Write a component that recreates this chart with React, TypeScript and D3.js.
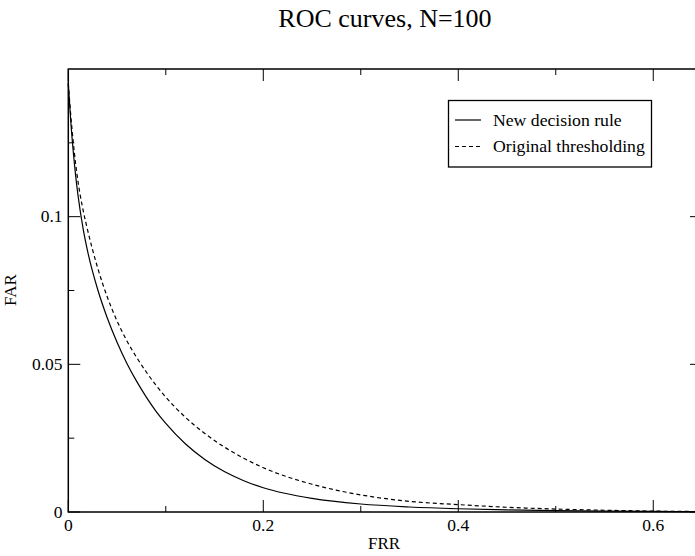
import React from "react";
import * as d3 from "d3";

const title = "ROC curves, N=100";
const xLabel = "FRR";
const yLabel = "FAR";

const xMajorTicks = [0, 0.2, 0.4, 0.6];
const xMajorLabels = ["0", "0.2", "0.4", "0.6"];
const xMinorTicks = [0.1, 0.3, 0.5];
const yMajorTicks = [0, 0.05, 0.1];
const yMajorLabels = ["0", "0.05", "0.1"];
const yMinorTicks = [0.025, 0.075, 0.125];

const seriesNames = ["New decision rule", "Original thresholding"];

const frrGrid = [0, 0.0025, 0.005, 0.0075, 0.01, 0.015, 0.02, 0.03, 0.04, 0.05, 0.06, 0.07, 0.08, 0.09, 0.1, 0.12, 0.14, 0.16, 0.18, 0.2, 0.25, 0.3, 0.35, 0.4, 0.45, 0.5, 0.55, 0.6, 0.65];

const newRuleFAR = [0.145, 0.1324, 0.1223, 0.114, 0.1071, 0.0963, 0.088, 0.0755, 0.0657, 0.0575, 0.0504, 0.0443, 0.0389, 0.0341, 0.03, 0.0231, 0.0178, 0.0137, 0.0106, 0.0082, 0.0046, 0.0027, 0.0017, 0.0011, 0.0007, 0.00045, 0.0003, 0.0002, 0.00012];

const origFAR = [0.1452, 0.1345, 0.1255, 0.118, 0.1118, 0.1025, 0.0952, 0.0828, 0.0728, 0.0647, 0.058, 0.0524, 0.0474, 0.0429, 0.0389, 0.0321, 0.0266, 0.022, 0.0182, 0.015, 0.0094, 0.0058, 0.0036, 0.0025, 0.0016, 0.001, 0.0006, 0.0003, 0.00015];

const W = 695;
const H = 556;
const font = "'Liberation Serif', 'Times New Roman', Times, serif";

export default function App() {
  const x = d3.scaleLinear().domain([0, 0.65]).range([68.3, 702]);
  const y = d3.scaleLinear().domain([0, 0.15]).range([512, 69]);
  const line = d3
    .line<[number, number]>()
    .x((d) => x(d[0]))
    .y((d) => y(d[1]))
    .curve(d3.curveMonotoneX);

  const solid = frrGrid.map((v, i) => [v, newRuleFAR[i]] as [number, number]);
  const dashed = frrGrid.map((v, i) => [v, origFAR[i]] as [number, number]);

  const x0 = x.range()[0];
  const x1 = x.range()[1];
  const y0 = y.range()[0];
  const y1 = y.range()[1];
  const major = 12;
  const minor = 6;
  const tickFs = 17.5;

  return (
    <svg
      width={W}
      height={H}
      style={{ position: "absolute", left: 0, top: 0, background: "#fff" }}
      fontFamily={font}
    >
      <rect x={0} y={0} width={W} height={H} fill="#fff" />
      <text x={385} y={27} fontSize={26} textAnchor="middle" fill="#000">
        {title}
      </text>

      <path d={line(solid) || ""} fill="none" stroke="#000" strokeWidth={1.2} />
      <path d={line(dashed) || ""} fill="none" stroke="#000" strokeWidth={1.2} strokeDasharray="4,3" />

      {xMajorTicks.map((t) => (
        <g key={"xm" + t}>
          <line x1={x(t)} x2={x(t)} y1={y0} y2={y0 - major} stroke="#000" strokeWidth={1} />
          <line x1={x(t)} x2={x(t)} y1={y1} y2={y1 + major} stroke="#000" strokeWidth={1} />
        </g>
      ))}
      {xMinorTicks.map((t) => (
        <g key={"xn" + t}>
          <line x1={x(t)} x2={x(t)} y1={y0} y2={y0 - minor} stroke="#000" strokeWidth={1} />
          <line x1={x(t)} x2={x(t)} y1={y1} y2={y1 + minor} stroke="#000" strokeWidth={1} />
        </g>
      ))}
      {yMajorTicks.map((t) => (
        <g key={"ym" + t}>
          <line x1={x0} x2={x0 + major} y1={y(t)} y2={y(t)} stroke="#000" strokeWidth={1} />
          <line x1={x1} x2={x1 - major} y1={y(t)} y2={y(t)} stroke="#000" strokeWidth={1} />
        </g>
      ))}
      {yMinorTicks.map((t) => (
        <g key={"yn" + t}>
          <line x1={x0} x2={x0 + minor} y1={y(t)} y2={y(t)} stroke="#000" strokeWidth={1} />
          <line x1={x1} x2={x1 - minor} y1={y(t)} y2={y(t)} stroke="#000" strokeWidth={1} />
        </g>
      ))}

      <rect x={x0} y={y1} width={x1 - x0} height={y0 - y1} fill="none" stroke="#000" strokeWidth={1.5} />

      {xMajorTicks.map((t, i) => (
        <text key={"xl" + t} x={x(t)} y={531} fontSize={tickFs} textAnchor="middle" fill="#000">
          {xMajorLabels[i]}
        </text>
      ))}
      {yMajorTicks.map((t, i) => (
        <text key={"yl" + t} x={62.5} y={y(t) + 5.8} fontSize={tickFs} textAnchor="end" fill="#000">
          {yMajorLabels[i]}
        </text>
      ))}

      <text x={384} y={549} fontSize={17} textAnchor="middle" fill="#000">
        {xLabel}
      </text>
      <text transform="translate(16,290) rotate(-90)" fontSize={17} textAnchor="middle" fill="#000">
        {yLabel}
      </text>

      <g>
        <rect x={448.5} y={100.5} width={203} height={66.5} fill="#fff" stroke="#000" strokeWidth={1.3} />
        <line x1={455} x2={481} y1={120} y2={120} stroke="#000" strokeWidth={1.2} />
        <line x1={455} x2={481} y1={146.5} y2={146.5} stroke="#000" strokeWidth={1.2} strokeDasharray="4,3" />
        <text x={493} y={126} fontSize={17.7} fill="#000">
          {seriesNames[0]}
        </text>
        <text x={493} y={152} fontSize={17.7} fill="#000">
          {seriesNames[1]}
        </text>
      </g>
    </svg>
  );
}
